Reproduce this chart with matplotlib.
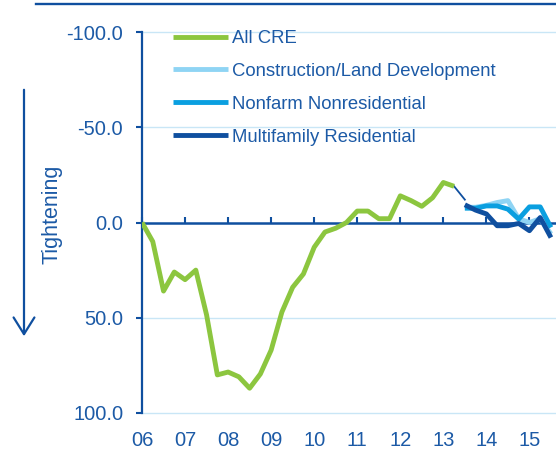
import matplotlib
matplotlib.use('Agg')
import matplotlib.pyplot as plt
import pandas as pd
from matplotlib.lines import Line2D
from matplotlib.patches import FancyArrowPatch

plt.rcParams['font.family'] = ['Liberation Sans', 'DejaVu Sans']

# ---- data (net % of banks tightening standards; negative = easing shown at top) ----
all_cre = [0, 10, 36, 26,
           30, 25, 48.5, 80,
           78.5, 81, 87, 79.5,
           67, 47, 34, 27,
           13, 5, 3, 0,
           -6, -6, -2, -2,
           -14, -11.5, -8.5, -13,
           -21, -19]
all_cre_start = '2006Q1'

construction = [-8, -8, -9, -10.5, -11.5, -2, 0, -2, 6]
nonfarm = [-7.5, -7.5, -8.7, -8.7, -7, -1.8, -8.2, -8.2, 2.6]
multifamily = [-9.3, -6.5, -4.5, 1.7, 1.7, 0.5, 4.3, -2.6, 7.9]
breakdown_start = '2013Q3'

bridge_start = '2013Q2'
bridge = [-19, -12]

year_ticks = [2006, 2007, 2008, 2009, 2010, 2011, 2012, 2013, 2014, 2015]
year_labels = ['06', '07', '08', '09', '10', '11', '12', '13', '14', '15']
y_ticks = [-100, -50, 0, 50, 100]
grid_levels = [-100, -50, 50, 100]

series_names = ['All CRE', 'Construction/Land Development',
                'Nonfarm Nonresidential', 'Multifamily Residential']


def qyears(start, n):
    p = pd.period_range(start, periods=n, freq='Q')
    return [x.year + (x.quarter - 1) / 4 for x in p]


GREEN = '#8cc63f'
LIGHT = '#8fd4f4'
MID = '#0a9fe0'
NAVY = '#0f4f9f'
TEXT = '#1c5aa6'
GRID = '#c9e6f6'

W, H = 556, 454
fig = plt.figure(figsize=(W / 100, H / 100), dpi=100)
ax = fig.add_axes([142 / W, 1 - 413 / H, (W - 142) / W, (413 - 32) / H])

for g in grid_levels:
    ax.axhline(g, color=GRID, lw=1.0, zorder=0, clip_on=False)

x_all = qyears(all_cre_start, len(all_cre))
x_bd = qyears(breakdown_start, len(multifamily))
x_br = qyears(bridge_start, len(bridge))

LW = 3.5
ax.plot(x_all, all_cre, color=GREEN, lw=LW, zorder=4, label=series_names[0],
        solid_capstyle='butt')
ax.plot(x_br, bridge, color=NAVY, lw=1.3, zorder=3)
ax.plot(x_bd, construction, color=LIGHT, lw=LW, zorder=3, label=series_names[1],
        solid_capstyle='butt')
ax.plot(x_bd, nonfarm, color=MID, lw=LW, zorder=4, label=series_names[2],
        solid_capstyle='butt')
ax.plot(x_bd, multifamily, color=NAVY, lw=LW, zorder=5, label=series_names[3],
        solid_capstyle='butt')

ax.set_ylim(100, -100)
ax.set_xlim(2006.0, 2006.0 + (W - 141.5) / 43.1)

for s in ['top', 'right']:
    ax.spines[s].set_visible(False)
ax.spines['left'].set_color(NAVY)
ax.spines['left'].set_linewidth(1.6)
ax.spines['bottom'].set_position(('data', 0))
ax.spines['bottom'].set_color(NAVY)
ax.spines['bottom'].set_linewidth(1.8)
ax.spines['bottom'].set_zorder(2)

ax.set_yticks(y_ticks)
ax.set_yticklabels([f'{v:.1f}' for v in y_ticks])
ax.tick_params(axis='y', direction='out', length=4, width=1.5, color=NAVY,
               labelcolor=TEXT, labelsize=14.5, pad=9.5)

ax.set_xticks(year_ticks)
ax.set_xticklabels(year_labels)
ax.tick_params(axis='x', direction='in', length=4, width=1.5, color=NAVY,
               labelcolor=TEXT, labelsize=14.5, pad=150)

leg = ax.legend(loc='upper left', bbox_to_anchor=(173 / W, 1 - 30 / H),
                bbox_transform=fig.transFigure, frameon=False,
                fontsize=13.3, handlelength=2.97, handletextpad=0.22,
                labelspacing=0.86, borderpad=0, borderaxespad=0)
for t in leg.get_texts():
    t.set_color(TEXT)

fig.text(52 / W, 1 - 214 / H, 'Tightening', rotation=90, ha='center', va='center',
         color=TEXT, fontsize=15.5)

arrow = FancyArrowPatch((24 / W, 1 - 87 / H), (24 / W, 1 - 339 / H),
                        transform=fig.transFigure,
                        arrowstyle='->,head_length=12,head_width=7.5',
                        mutation_scale=1, color=NAVY, lw=1.6)
fig.add_artist(arrow)

fig.add_artist(Line2D([36 / W, 1.0], [1 - 3.5 / H, 1 - 3.5 / H],
                      transform=fig.transFigure, color=NAVY, lw=1.7))

fig.savefig('out.png', dpi=100)
